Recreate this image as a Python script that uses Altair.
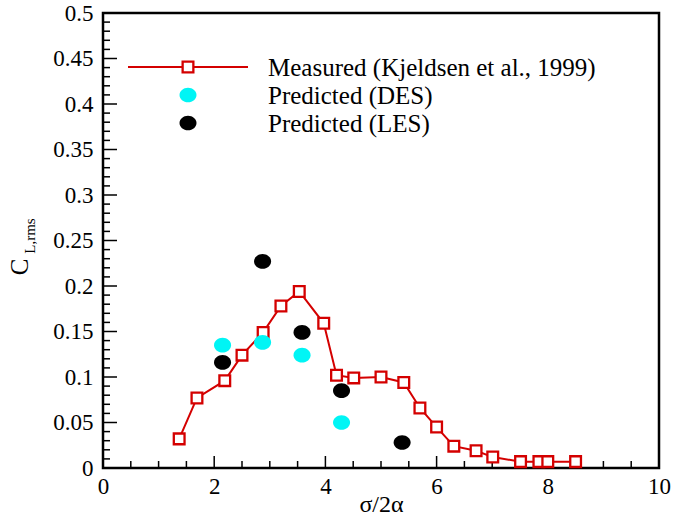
import altair as alt
import pandas as pd

# ---- data ----
meas_x = [1.37, 1.69, 2.19, 2.50, 2.88, 3.20, 3.53, 3.97, 4.20, 4.51, 5.00,
          5.41, 5.70, 6.00, 6.31, 6.71, 7.01, 7.51, 7.84, 8.00, 8.50]
meas_y = [0.032, 0.077, 0.096, 0.124, 0.149, 0.178, 0.194, 0.159, 0.102, 0.099, 0.100,
          0.094, 0.066, 0.045, 0.024, 0.019, 0.012, 0.007, 0.007, 0.007, 0.007]
des_x = [2.15, 2.87, 3.58, 4.29]
des_y = [0.135, 0.138, 0.124, 0.050]
les_x = [2.15, 2.87, 3.58, 4.29, 5.38]
les_y = [0.116, 0.227, 0.149, 0.085, 0.028]

legend_labels = ["Measured (Kjeldsen et al., 1999)", "Predicted (DES)", "Predicted (LES)"]
x_tick_values = [0, 2, 4, 6, 8, 10]
y_tick_values = [0, 0.05, 0.1, 0.15, 0.2, 0.25, 0.3, 0.35, 0.4, 0.45, 0.5]
x_minor = [0.5, 1, 1.5, 2.5, 3, 3.5, 4.5, 5, 5.5, 6.5, 7, 7.5, 8.5, 9, 9.5]
x_major = [2, 4, 6, 8]
y_major = [0.05, 0.1, 0.15, 0.2, 0.25, 0.3, 0.35, 0.4, 0.45]
y_minor = [round(i * 0.01, 2) for i in range(1, 50) if i % 5 != 0]

RED = "#d40000"
CYAN = "#00f5f5"
FONT = "Liberation Serif"
W, H = 556, 455
ELLIPSE = "M -1 0 A 1 0.86 0 1 1 1 0 A 1 0.86 0 1 1 -1 0 Z"

meas = pd.DataFrame({"x": meas_x, "y": meas_y})
des = pd.DataFrame({"x": des_x, "y": des_y})
les = pd.DataFrame({"x": les_x, "y": les_y})

xs = alt.Scale(domain=[0, 10], nice=False, zero=False)
ys = alt.Scale(domain=[0, 0.5], nice=False, zero=False)

X = alt.X("x:Q", scale=xs, axis=alt.Axis(values=x_tick_values, ticks=False, domain=False, grid=False,
                                          labelFont=FONT, labelFontSize=23, labelColor="black",
                                          labelPadding=7, labelFlush=False,
                                          title="σ/2α", titleFont=FONT, titleFontSize=24,
                                          titleFontWeight="normal", titleColor="black",
                                          titleBaseline="middle", titleY=36))
Y = alt.Y("y:Q", scale=ys, axis=alt.Axis(values=y_tick_values, ticks=False, domain=False, grid=False,
                                          format="~g", labelFont=FONT, labelFontSize=23,
                                          labelColor="black", labelPadding=10, labelFlush=False,
                                          title=None))

line = alt.Chart(meas).mark_line(color=RED, strokeWidth=2).encode(x=X, y=Y)
squares = alt.Chart(meas).mark_point(shape="square", size=115, filled=True, fill="white",
                                     stroke=RED, strokeWidth=2.3, opacity=1).encode(x="x:Q", y="y:Q")
des_pts = alt.Chart(des).mark_point(shape=ELLIPSE, size=290, filled=True, color=CYAN,
                                    opacity=1).encode(x="x:Q", y="y:Q")
les_pts = alt.Chart(les).mark_point(shape=ELLIPSE, size=290, filled=True, color="black",
                                    opacity=1).encode(x="x:Q", y="y:Q")

# inward ticks
def xticks(vals, length):
    return alt.Chart(pd.DataFrame({"t": vals})).mark_rule(color="black", strokeWidth=1.5).encode(
        x=alt.X("t:Q", scale=xs), y=alt.value(H), y2=alt.value(H - length))

def yticks(vals, length):
    return alt.Chart(pd.DataFrame({"t": vals})).mark_rule(color="black", strokeWidth=1.5).encode(
        y=alt.Y("t:Q", scale=ys), x=alt.value(0), x2=alt.value(length))

ticks = [xticks(x_major, 12), xticks(x_minor, 7), yticks(y_major, 14), yticks(y_minor, 7)]

# legend
one = pd.DataFrame({"k": [0]})
leg_rows = [54, 82, 110]
leg_line = alt.Chart(one).mark_rule(color=RED, strokeWidth=2).encode(
    x=alt.value(25), x2=alt.value(145), y=alt.value(leg_rows[0]))
leg_sq = alt.Chart(one).mark_point(shape="square", size=115, filled=True, fill="white",
                                   stroke=RED, strokeWidth=2.3, opacity=1).encode(
    x=alt.value(85), y=alt.value(leg_rows[0]))
leg_c1 = alt.Chart(one).mark_point(shape=ELLIPSE, size=290, filled=True, color=CYAN, opacity=1).encode(
    x=alt.value(85), y=alt.value(leg_rows[1]))
leg_c2 = alt.Chart(one).mark_point(shape=ELLIPSE, size=290, filled=True, color="black", opacity=1).encode(
    x=alt.value(85), y=alt.value(leg_rows[2]))
leg_txt = [alt.Chart(pd.DataFrame({"label": [lab]})).mark_text(
    font=FONT, fontSize=25, align="left", baseline="middle", color="black").encode(
    x=alt.value(165), y=alt.value(r + 1), text="label:N")
    for lab, r in zip(legend_labels, leg_rows)]

# y title with subscript
yt_main = alt.Chart(pd.DataFrame({"s": ["C"]})).mark_text(
    font=FONT, fontSize=25, angle=270, align="center", baseline="middle", color="black").encode(
    x=alt.value(-83), y=alt.value(254), text="s:N")
yt_sub = alt.Chart(pd.DataFrame({"s": ["L,rms"]})).mark_text(
    font=FONT, fontSize=15, angle=270, align="center", baseline="middle", color="black").encode(
    x=alt.value(-73), y=alt.value(223), text="s:N")

chart = alt.layer(line, *ticks, squares, des_pts, les_pts, leg_line, leg_sq, leg_c1, leg_c2,
                  *leg_txt, yt_main, yt_sub).properties(
    width=W, height=H,
    autosize=alt.AutoSizeParams(type="none"),
    padding={"left": 103, "top": 13, "right": 27, "bottom": 48},
    background="white",
).configure_view(stroke="black", strokeWidth=2.5)

chart.save("out.html", embed_options={"renderer": "svg", "actions": False})
